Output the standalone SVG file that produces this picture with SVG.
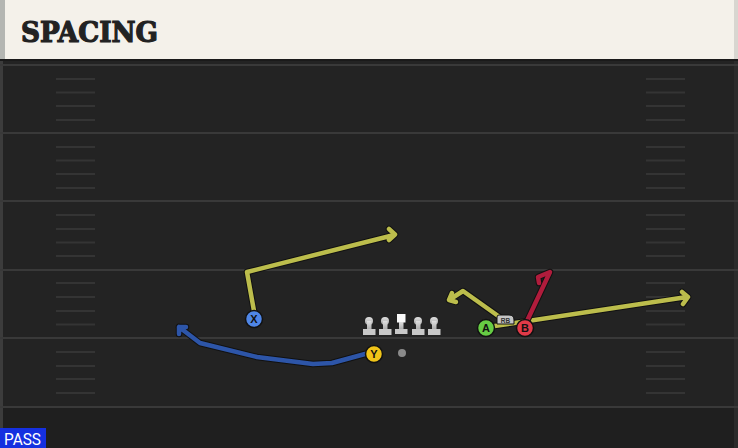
<svg xmlns="http://www.w3.org/2000/svg" width="738" height="448" viewBox="0 0 738 448">
<style>
.yl{stroke:#393939;stroke-width:2}
.hash{stroke:#343434;stroke-width:2}
.rt{fill:none;stroke-linecap:round;stroke-linejoin:round}
.ol{stroke:#111;stroke-width:6.5}
.yel{stroke:#bcbd4c;stroke-width:4.5}
.blu{stroke:#2d55a8;stroke-width:4.5}
.red{stroke:#b01c3c;stroke-width:4.5}
.pl{stroke:#111;stroke-width:1.5}
.lbl{font-family:"Liberation Sans",Arial,sans-serif;font-weight:bold;font-size:11px;fill:#111;text-anchor:middle}
</style>
<defs>
<linearGradient id="lg" x1="0" y1="0" x2="0" y2="1">
<stop offset="0" stop-color="#e0e0e0"/>
<stop offset="1" stop-color="#a8a8a8"/>
</linearGradient>
</defs>
<rect x="0" y="0" width="738" height="448" fill="#232323"/>
<rect x="0" y="406" width="738" height="42" fill="#1f1f1f"/>
<rect x="0" y="60" width="3" height="388" fill="#3c3c3c"/>
<rect x="734" y="60" width="4" height="388" fill="#2b2b2b"/>
<g id="field">
<line class="yl" x1="0" y1="65" x2="738" y2="65"/>
<line class="yl" x1="0" y1="133" x2="738" y2="133"/>
<line class="yl" x1="0" y1="201" x2="738" y2="201"/>
<line class="yl" x1="0" y1="270" x2="738" y2="270"/>
<line class="yl" x1="0" y1="338" x2="738" y2="338"/>
<line class="yl" x1="0" y1="407" x2="738" y2="407"/>
<g class="hash">
<path d="M56,79H95M56,92.5H95M56,106H95M56,120H95M56,147H95M56,160.5H95M56,174H95M56,188H95M56,215H95M56,229H95M56,242.5H95M56,256H95M56,283H95M56,297H95M56,311H95M56,324.5H95M56,352H95M56,366H95M56,379H95M56,393H95"/>
<path d="M646,79H685M646,92.5H685M646,106H685M646,120H685M646,147H685M646,160.5H685M646,174H685M646,188H685M646,215H685M646,229H685M646,242.5H685M646,256H685M646,283H685M646,297H685M646,311H685M646,324.5H685M646,352H685M646,366H685M646,379H685M646,393H685"/>
</g>
</g>
<g id="header">
<rect x="0" y="0" width="738" height="60" fill="#f4f1ea"/>
<rect x="0" y="0" width="5" height="60" fill="#b4b6b2"/>
<rect x="734" y="0" width="4" height="60" fill="#d8d6d0"/>
<rect x="0" y="59" width="738" height="2" fill="#1a1a1a"/>
<text x="21" y="42" font-family="DejaVu Serif" font-weight="bold" font-size="27" fill="#222" stroke="#222" stroke-width="1.2" textLength="137" lengthAdjust="spacingAndGlyphs">SPACING</text>
</g>
<g id="connectors">
<g id="route-x">
<path class="rt ol" d="M254,311L247,272L394,235M389,229L395,234.5L389,240"/>
<path class="rt yel" d="M254,311L247,272L394,235M389,229L395,234.5L389,240"/>
</g>
<g id="route-a">
<path class="rt ol" d="M488,327L687,297M682,292L688,297L683,304"/>
<path class="rt yel" d="M488,327L687,297M682,292L688,297L683,304"/>
</g>
<g id="route-rb">
<path class="rt ol" d="M501,318L463,291L449,300M452,293L449,300L456,302"/>
<path class="rt yel" d="M501,318L463,291L449,300M452,293L449,300L456,302"/>
</g>
<g id="route-b">
<path class="rt ol" d="M527,321L550,272L538,277L539,283"/>
<path class="rt red" d="M527,321L550,272L538,277L539,283"/>
</g>
<g id="route-y">
<path class="rt ol" d="M365,354L332,363L313,364L257,357L200,343L179,327M186,327L179,327L179,334"/>
<path class="rt blu" d="M365,354L332,363L313,364L257,357L200,343L179,327M186,327L179,327L179,334"/>
</g>
</g>
<g id="line">
<g id="lt"><circle cx="369" cy="321" r="4" fill="url(#lg)"/><rect x="367" y="321" width="4.5" height="9" fill="url(#lg)"/><rect x="363" y="329" width="12.5" height="6" fill="#c8c8c8"/></g>
<g id="lg2"><circle cx="385" cy="321" r="4" fill="url(#lg)"/><rect x="383" y="321" width="4.5" height="9" fill="url(#lg)"/><rect x="379" y="329" width="12.5" height="6" fill="#c8c8c8"/></g>
<g id="c"><rect x="397" y="314" width="8.5" height="8.5" fill="#fafafa"/><rect x="399" y="322" width="4.5" height="8" fill="url(#lg)"/><rect x="395" y="329" width="12.5" height="5" fill="#c8c8c8"/></g>
<g id="rg"><circle cx="418" cy="321" r="4" fill="url(#lg)"/><rect x="416" y="321" width="4.5" height="9" fill="url(#lg)"/><rect x="412" y="329" width="12.5" height="6" fill="#c8c8c8"/></g>
<g id="rt"><circle cx="434" cy="321" r="4" fill="url(#lg)"/><rect x="432" y="321" width="4.5" height="9" fill="url(#lg)"/><rect x="428" y="329" width="12.5" height="6" fill="#c8c8c8"/></g>
</g>
<g id="ball"><circle cx="402" cy="353" r="4" fill="#8a8a8a"/></g>
<g id="rb">
<path d="M497,324V317Q497,315 499,315H509Q514,315 514,320V324Z" fill="#c4c4c4" stroke="#111" stroke-width="1"/>
<text x="505.5" y="323" font-family="Liberation Sans,Arial,sans-serif" font-weight="bold" font-size="6.5" fill="#333" text-anchor="middle">RB</text>
</g>
<g id="x"><circle class="pl" cx="254" cy="319" r="8.5" fill="#4f86e6"/><text class="lbl" x="254" y="323">X</text></g>
<g id="y"><circle class="pl" cx="374" cy="354" r="8.5" fill="#f0c419"/><text class="lbl" x="374" y="358">Y</text></g>
<g id="a"><circle class="pl" cx="486" cy="328" r="8.5" fill="#66cc44"/><text class="lbl" x="486" y="332">A</text></g>
<g id="b"><circle class="pl" cx="525" cy="328" r="8.5" fill="#e03a48"/><text class="lbl" x="525" y="332">B</text></g>
<g id="pass">
<rect x="0" y="428" width="46" height="20" fill="#1530e0"/>
<text x="4" y="445" font-family="Roboto,Liberation Sans,sans-serif" font-size="16" fill="#fff" textLength="37" lengthAdjust="spacingAndGlyphs">PASS</text>
</g>
</svg>
